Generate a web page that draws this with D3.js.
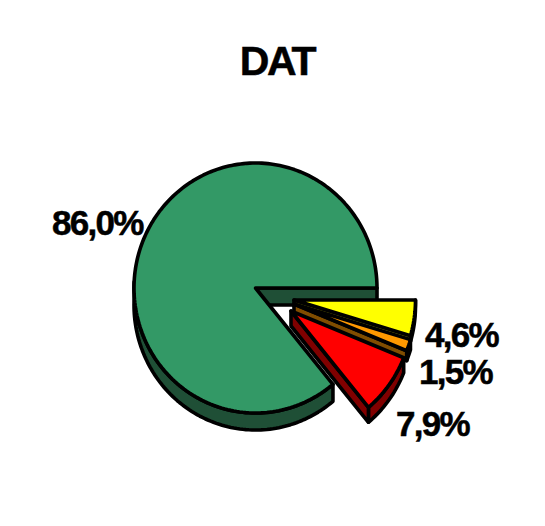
<!DOCTYPE html>
<html><head><meta charset="utf-8"><script src="https://cdn.jsdelivr.net/npm/d3@7"></script>
<style>html,body{margin:0;background:#fff}svg{display:block}text{font-family:"Liberation Sans",Arial,sans-serif;font-weight:700;fill:#000;stroke:#000;stroke-width:.5px}</style></head><body>
<svg id="c" width="545" height="526"></svg>
<script>
const title = "DAT";
const categories = ["A","B","C","D"];
const values = [4.6, 1.5, 7.9, 86.0];
const labels = ["4,6%","1,5%","7,9%","86,0%"];
const faceColors = ["#ffff00","#ff9900","#ff0000","#339966"];
const wallColors = ["#808000","#804d00","#800000","#1f4f36"];

// layout
const radius = 121.5, ry = 125, depths = [6,10,15,17];
const centers = [[294,300],[294,304],[291,311],[255.5,288]];
const labelPos = [[425,347],[419,384],[396,436],[52,235]];
const drawOrder = [3,0,1,2];

const svg = d3.select("#c");
const pie = d3.pie().sort(null).value(d=>d).startAngle(Math.PI/2).endAngle(Math.PI/2+2*Math.PI);
const arcs = pie(values);
const line = d3.line();
const pt = (i,a)=>[centers[i][0]+radius*Math.sin(a), centers[i][1]-ry*Math.cos(a)];

function face(i){
  const a=arcs[i], n=Math.max(4,Math.ceil((a.endAngle-a.startAngle)*40));
  const pts=[centers[i]].concat(d3.range(n+1).map(k=>pt(i,a.startAngle+(a.endAngle-a.startAngle)*k/n)));
  return line(pts)+"Z";
}
function wallOuter(i){
  const a=arcs[i], d=depths[i];
  const from=a.startAngle, to=Math.min(a.endAngle, 1.5*Math.PI+0.05), n=Math.ceil((to-from)*40);
  const top=d3.range(n+1).map(k=>pt(i,from+(to-from)*k/n));
  const bottom=top.map(p=>[p[0],p[1]+d]).reverse();
  return line(top.concat(bottom))+"Z";
}
function wallCut(i,angle){
  const p=pt(i,angle), c=centers[i], d=depths[i];
  return line([c,p,[p[0],p[1]+d],[c[0],c[1]+d]])+"Z";
}
drawOrder.forEach(i=>{
  const g=svg.append("g").attr("stroke","#000").attr("stroke-width",3.6).attr("stroke-linejoin","round");
  const a=arcs[i];
  g.append("path").attr("d",wallOuter(i)).attr("fill",wallColors[i]);
  g.append("path").attr("d",wallCut(i,a.endAngle)).attr("fill",wallColors[i]);
  g.append("path").attr("d",face(i)).attr("fill",faceColors[i]);
});
svg.append("text").attr("x",277).attr("y",75).attr("text-anchor","middle").attr("font-size",41).attr("letter-spacing",-2.2).text(title);
labels.forEach((t,i)=>svg.append("text").attr("x",labelPos[i][0]).attr("y",labelPos[i][1]).attr("font-size",35).attr("letter-spacing",-1.7).text(t));
</script></body></html>
